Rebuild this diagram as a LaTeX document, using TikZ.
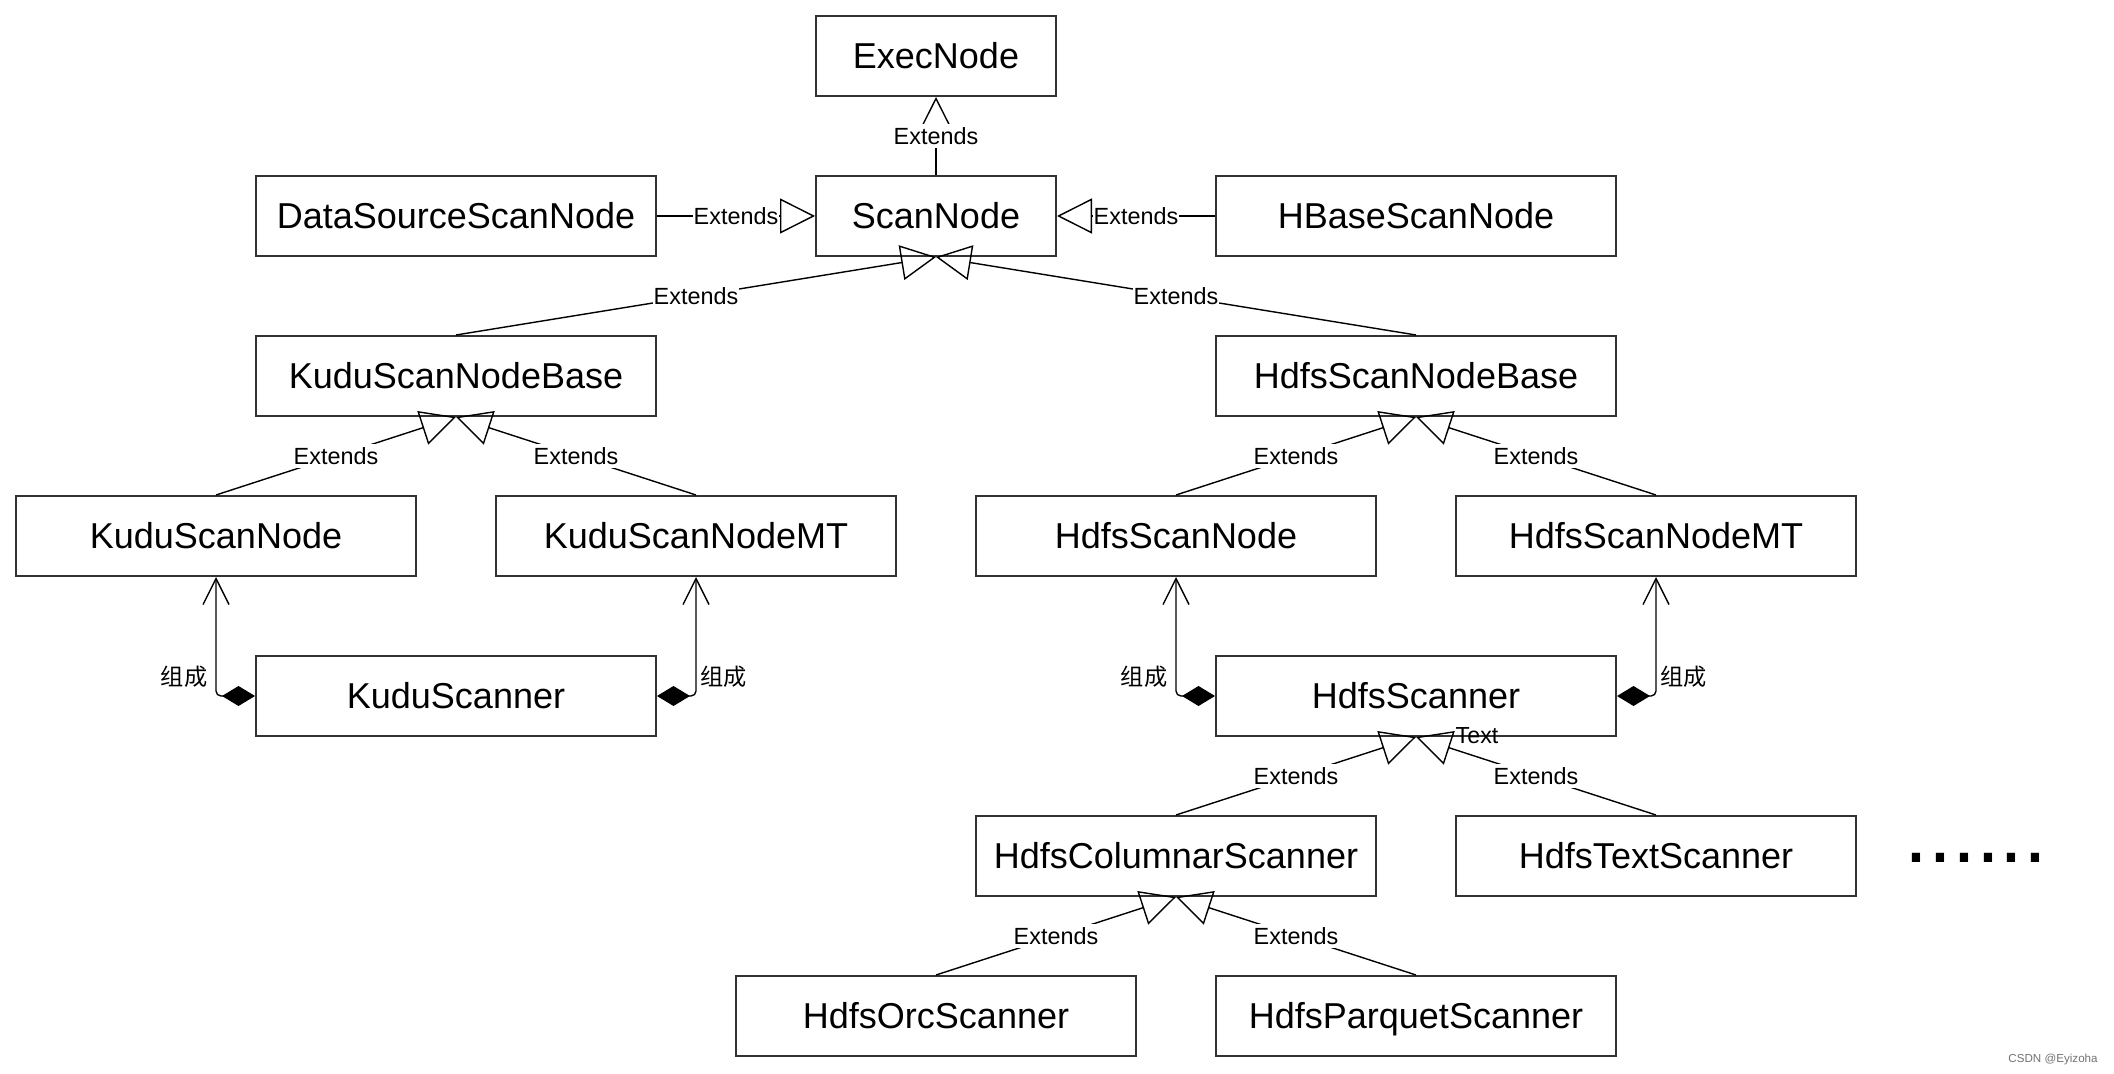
\documentclass[tikz,border=0pt]{standalone}
\usepackage{fontspec}
\setmainfont{Liberation Sans}
\newfontfamily\cjk{Noto Sans CJK SC}
\usetikzlibrary{arrows.meta}
\tikzset{
 box/.style={draw=black!80, line width=1pt, minimum width=200pt, minimum height=40pt, inner sep=0pt, text height=13pt, text depth=0.1pt, font=\fontsize{18}{21}\selectfont},
 narrowbox/.style={box, minimum width=120pt},
 ext/.style={line width=0.7pt, -{Triangle[open, length=17.5pt, width=17.5pt]}},
 comp/.style={line width=0.7pt, rounded corners=2.5pt, {Diamond[length=16.5pt,width=10pt]}-{Straight Barb[length=13pt,width=13pt]}},
 lbl/.style={fill=white, inner xsep=0.5pt, inner ysep=1.5pt, font=\fontsize{11.7}{14}\selectfont},
 clbl/.style={inner sep=1pt, font=\cjk\fontsize{11.6}{14}\selectfont},
}
\begin{document}
\begin{tikzpicture}[x=0.5pt, y=-0.5pt]
\fill[white] (0,0) rectangle (2114,1074);
\useasboundingbox (0,0) rectangle (2114,1074);
% nodes
\node[narrowbox] (exec) at (936,56) {ExecNode};
\node[narrowbox] (scan) at (936,216) {ScanNode};
\node[box] (ds) at (456,216) {DataSourceScanNode};
\node[box] (hbase) at (1416,216) {HBaseScanNode};
\node[box] (kbase) at (456,376) {KuduScanNodeBase};
\node[box] (hdbase) at (1416,376) {HdfsScanNodeBase};
\node[box] (knode) at (216,536) {KuduScanNode};
\node[box] (kmt) at (696,536) {KuduScanNodeMT};
\node[box] (hnode) at (1176,536) {HdfsScanNode};
\node[box] (hmt) at (1656,536) {HdfsScanNodeMT};
\node[box] (kscanner) at (456,696) {KuduScanner};
\node[box] (hscanner) at (1416,696) {HdfsScanner};
\node[box] (hcol) at (1176,856) {HdfsColumnarScanner};
\node[box] (htext) at (1656,856) {HdfsTextScanner};
\node[box] (horc) at (936,1016) {HdfsOrcScanner};
\node[box] (hparq) at (1416,1016) {HdfsParquetScanner};
% extends
\draw[ext] (scan.north) -- node[lbl] {Extends} (exec.south);
\draw[ext] (ds.east) -- node[lbl] {Extends} (scan.west);
\draw[ext] (hbase.west) -- node[lbl] {Extends} (scan.east);
\draw[ext] (kbase.north) -- node[lbl] {Extends} (scan.south);
\draw[ext] (hdbase.north) -- node[lbl] {Extends} (scan.south);
\draw[ext] (knode.north) -- node[lbl] {Extends} (kbase.south);
\draw[ext] (kmt.north) -- node[lbl] {Extends} (kbase.south);
\draw[ext] (hnode.north) -- node[lbl] {Extends} (hdbase.south);
\draw[ext] (hmt.north) -- node[lbl] {Extends} (hdbase.south);
\draw[ext] (hcol.north) -- node[lbl] {Extends} (hscanner.south);
\draw[ext] (htext.north) -- node[lbl] {Extends} (hscanner.south);
\draw[ext] (horc.north) -- node[lbl] {Extends} (hcol.south);
\draw[ext] (hparq.north) -- node[lbl] {Extends} (hcol.south);
% composition
\draw[comp] (kscanner.west) -| node[clbl, pos=0.58, left=3pt] {组成} (knode.south);
\draw[comp] (kscanner.east) -| node[clbl, pos=0.58, right=1pt] {组成} (kmt.south);
\draw[comp] (hscanner.west) -| node[clbl, pos=0.58, left=3pt] {组成} (hnode.south);
\draw[comp] (hscanner.east) -| node[clbl, pos=0.58, right=1pt] {组成} (hmt.south);
% misc texts
\node[inner sep=0pt, font=\fontsize{11.6}{14}\selectfont] (txt) at (1477,736) {Text};
\node[inner sep=0pt, anchor=base, font=\fontsize{43}{50}\selectfont] (dots) at (1976,862) {......};
\node[inner sep=0pt, anchor=base east, text=black!55, font=\fontsize{5.8}{7}\selectfont] (wm) at (2098,1062) {CSDN @Eyizoha};
\end{tikzpicture}
\end{document}
